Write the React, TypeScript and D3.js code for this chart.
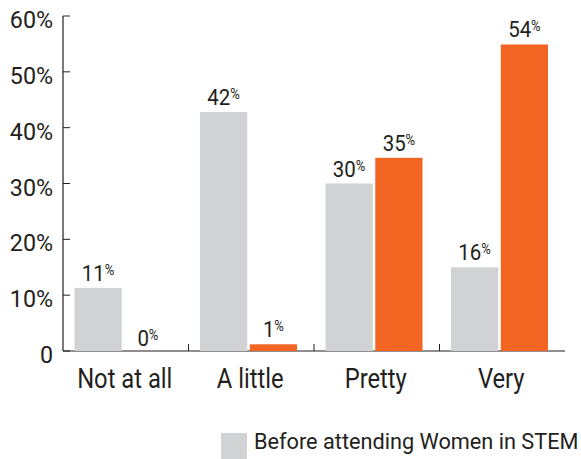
import React from "react";
import * as d3 from "d3";

const categories = ["Not at all", "A little", "Pretty", "Very"];
const beforeValues = [11.3, 42.8, 30, 15];
const afterValues = [0, 1.2, 34.6, 54.9];
const beforeLabels = ["11", "42", "30", "16"];
const afterLabels = ["0", "1", "35", "54"];
const yTicks = [0, 10, 20, 30, 40, 50, 60];
const legendLabel = "Before attending Women in STEM";

const W = 581;
const H = 459;
const FONT = "Roboto, sans-serif";
const GRAY = "#d1d2d4";
const ORANGE = "#f26522";
const TEXT = "#231f20";

export default function App() {
  const x0 = 63;
  const x1 = 565;
  const yTop = 16;
  const yBottom = 351;
  const y = d3.scaleLinear().domain([0, 60]).range([yBottom, yTop]);
  const x = d3.scaleBand().domain(categories).range([x0, x1]).paddingInner(0).paddingOuter(0);
  const sub = d3.scaleBand().domain(["before", "after"]).range([11.5, 11.5 + 97]).paddingInner(5 / 97);

  const dataLabel = (cx: number, cy: number, num: string) => (
    <text transform={`translate(${cx},${cy}) scale(0.93,1)`} textAnchor="middle" fill={TEXT}>
      <tspan fontSize={22}>{num}</tspan>
      <tspan fontSize={14} dy={-6}>%</tspan>
    </text>
  );

  return (
    <svg width={W} height={H} style={{ position: "absolute", left: 0, top: 0 }} fontFamily={FONT}>
      <line x1={x0} x2={x0} y1={yTop} y2={yBottom} stroke={TEXT} strokeWidth={1.2} />
      <line x1={x0} x2={x1} y1={yBottom} y2={yBottom} stroke={TEXT} strokeWidth={1.2} />
      {yTicks.map((t) => (
        <g key={t}>
          <line x1={x0} x2={x0 + 7} y1={y(t)} y2={y(t)} stroke={TEXT} strokeWidth={1} />
          <text transform={`translate(53,${y(t) + 12}) scale(0.97,1)`} textAnchor="end" fontSize={24} fill={TEXT}>
            {t === 0 ? "0" : `${t}%`}
          </text>
        </g>
      ))}
      {categories.slice(1).map((c) => (
        <line key={c} x1={x(c)!} x2={x(c)!} y1={yBottom} y2={yBottom - 7} stroke={TEXT} strokeWidth={1} />
      ))}
      {categories.map((c, i) => {
        const bx = x(c)! + sub("before")!;
        const ax = x(c)! + sub("after")!;
        const bw = sub.bandwidth();
        return (
          <g key={c}>
            <rect x={bx} y={y(beforeValues[i])} width={bw} height={yBottom - y(beforeValues[i])} fill={GRAY} />
            <rect x={ax} y={y(afterValues[i])} width={bw} height={yBottom - y(afterValues[i])} fill={ORANGE} />
            {dataLabel(bx + bw / 2, y(beforeValues[i]) - 7, beforeLabels[i])}
            {dataLabel(ax + bw / 2, y(afterValues[i]) - (afterValues[i] === 0 ? 5 : 7), afterLabels[i])}
            <text
              transform={`translate(${x(c)! + x.bandwidth() / 2 - 1},388) scale(0.88,1)`}
              textAnchor="middle"
              fontSize={27}
              fill={TEXT}
            >
              {c}
            </text>
          </g>
        );
      })}
      <rect x={221} y={433} width={26} height={26} fill={GRAY} />
      <text transform="translate(254,449) scale(0.965,1)" fontSize={22.5} fill={TEXT}>
        {legendLabel}
      </text>
    </svg>
  );
}
